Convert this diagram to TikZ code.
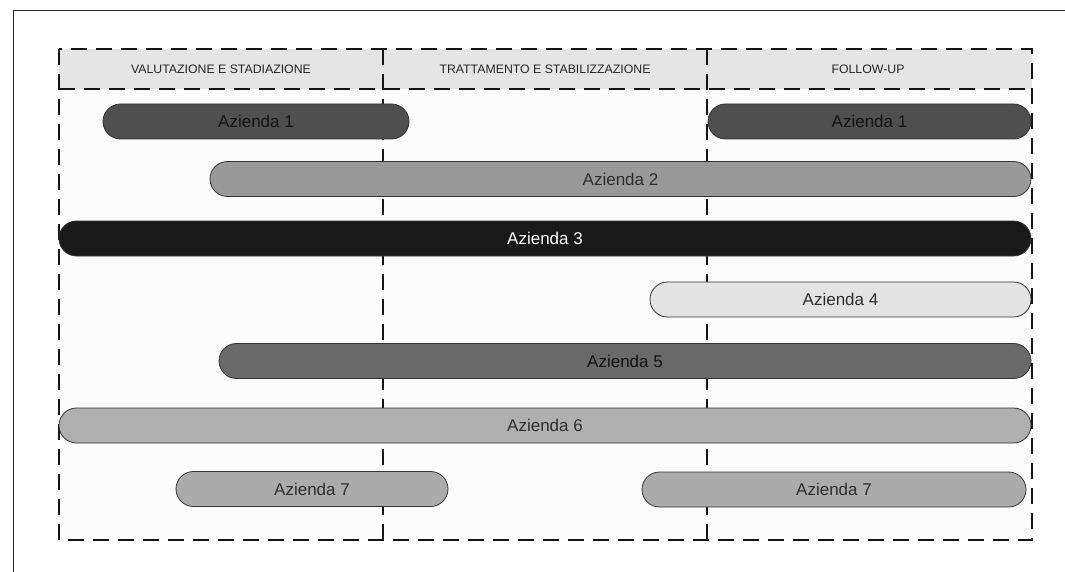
\documentclass[tikz,border=0pt]{standalone}
\usepackage{fontspec}
\setmainfont{Liberation Sans}
\begin{document}
\begin{tikzpicture}[x=1pt,y=-1pt,
  grid/.style={line width=2.2pt,dash pattern=on 16pt off 9pt,black!92},
  phase/.style={inner sep=0pt,text=black!85,font=\fontsize{12.3}{14}\selectfont},
  bar/.style={draw=black!80,line width=0.8pt,rounded corners=17.5pt,
    minimum height=35pt,inner sep=0pt,text=black!82,
    font=\fontsize{17}{20}\selectfont},
  darkbar/.style={bar,text=black!92},
  frameline/.style={line width=1pt,black!85}]
\useasboundingbox (0,0) rectangle (1065,572);
\fill[white] (0,0) rectangle (1065,572);
% outer frame (top and left edges)
\coordinate (fa) at (13,572);
\coordinate (fb) at (13,11);
\coordinate (fc) at (1065,11);
\draw[frameline] (fa) -- (fb) -- (fc);
% grid background
\fill[black!1] (59,89) rectangle (1032,540);
\fill[black!10] (59,49) rectangle (1032,89);
% grid corner and divider coordinates
\coordinate (tl) at (59,49);
\coordinate (br) at (1032,540);
\coordinate (hl) at (59,89);
\coordinate (hr) at (1032,89);
\coordinate (d1t) at (383,49);
\coordinate (d1b) at (383,540);
\coordinate (d2t) at (707,49);
\coordinate (d2b) at (707,540);
\draw[grid] (tl) rectangle (br);
\draw[grid] (hl) -- (hr);
\draw[grid] (d1t) -- (d1b);
\draw[grid] (d2t) -- (d2b);
% phase headings
\node[phase] (p1) at (221,69) {VALUTAZIONE E STADIAZIONE};
\node[phase] (p2) at (545,69) {TRATTAMENTO E STABILIZZAZIONE};
\node[phase] (p3) at (868,69) {FOLLOW-UP};
% company bars
\node[darkbar,fill=black!69,minimum width=306pt] (a1l) at (256,121.5) {Azienda 1};
\node[darkbar,fill=black!69,minimum width=323pt] (a1r) at (869.5,121.5) {Azienda 1};
\node[bar,fill=black!40,minimum width=821pt] (a2) at (620.5,179) {Azienda 2};
\node[bar,fill=black!90,text=white,minimum width=972pt] (a3) at (545,238.5) {Azienda 3};
\node[bar,fill=black!11,minimum width=381pt] (a4) at (840.5,299.5) {Azienda 4};
\node[darkbar,fill=black!59,minimum width=812pt] (a5) at (625,361) {Azienda 5};
\node[bar,fill=black!31,minimum width=972pt] (a6) at (545,425.5) {Azienda 6};
\node[bar,fill=black!33,minimum width=272pt] (a7l) at (312,489) {Azienda 7};
\node[bar,fill=black!33,minimum width=384pt] (a7r) at (834,489.5) {Azienda 7};
\end{tikzpicture}
\end{document}
